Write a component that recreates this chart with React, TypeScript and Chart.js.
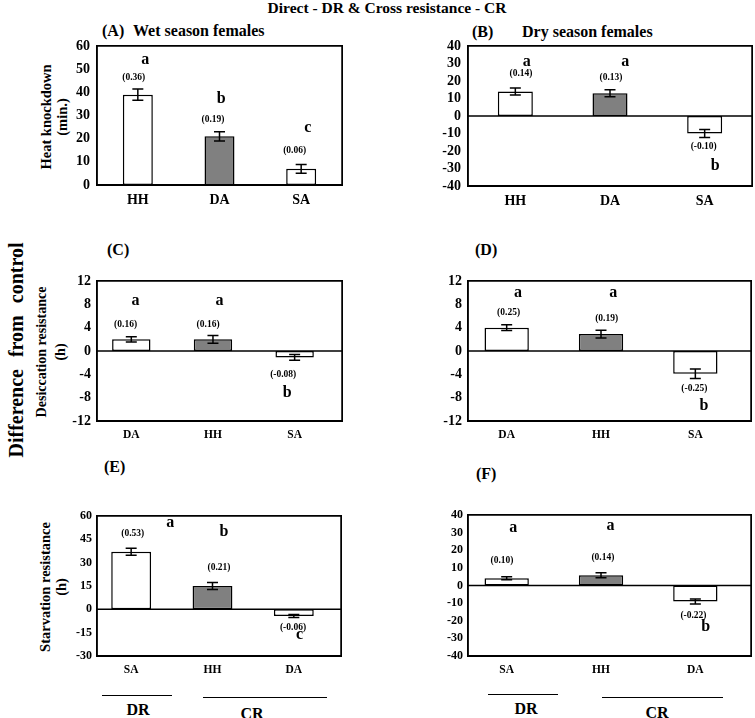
import React, { useEffect, useRef, useState } from "react";
import { Chart, registerables } from "chart.js";

Chart.register(...registerables);

const SERIF = "'Liberation Serif', 'Times New Roman', serif";

// ---------- Data ----------
// (A) Wet season females – heat knockdown (min.)
const catsA = ["HH", "DA", "SA"];
const valsA = [39, 21, 7];
const errsA = [2.4, 2, 1.9];
const lettersA = ["a", "b", "c"];
const letterXA = [0.09, 1.02, 2.08];
const letterYA = [54, 37, 24.6];
const numsA = ["(0.36)", "(0.19)", "(0.06)"];
const numXA = [-0.05, 0.92, 1.92];
const numYA = [46.5, 28.4, 14.7];

// (B) Dry season females – heat knockdown
const catsB = ["HH", "DA", "SA"];
const valsB = [14, 13, -10];
const errsB = [2, 2, 2.3];
const lettersB = ["a", "a", "b"];
const letterXB = [0.12, 1.16, 2.11];
const letterYB = [30.9, 30.9, -28.6];
const numsB = ["(0.14)", "(0.13)", "(-0.10)"];
const numXB = [0.06, 1.01, 1.99];
const numYB = [24, 22.1, -17.5];

// (C) Wet season – desiccation resistance (h)
const catsC = ["DA", "HH", "SA"];
const valsC = [2, 2, -1.1];
const errsC = [0.45, 0.65, 0.5];
const lettersC = ["a", "a", "b"];
const letterXC = [0.05, 1.08, 1.91];
const letterYC = [8.6, 8.6, -7.1];
const numsC = ["(0.16)", "(0.16)", "(-0.08)"];
const numXC = [-0.07, 0.94, 1.86];
const numYC = [4.6, 4.6, -4.0];

// (D) Dry season – desiccation resistance
const catsD = ["DA", "HH", "SA"];
const valsD = [4, 2.9, -3.9];
const errsD = [0.5, 0.65, 0.8];
const lettersD = ["a", "a", "b"];
const letterXD = [0.12, 1.13, 2.09];
const letterYD = [10, 10, -9.4];
const numsD = ["(0.25)", "(0.19)", "(-0.25)"];
const numXD = [0.02, 1.06, 1.99];
const numYD = [6.6, 5.6, -6.5];

// (E) Wet season – starvation resistance (h)
const catsE = ["SA", "HH", "DA"];
const valsE = [37, 15, -4.3];
const errsE = [2.2, 2.2, 0.9];
const lettersE = ["a", "b", "c"];
const letterXE = [0.48, 1.14, 2.07];
const letterYE = [55.5, 50, -16.7];
const numsE = ["(0.53)", "(0.21)", "(-0.06)"];
const numXE = [0.02, 1.08, 1.99];
const numYE = [49, 26.8, -11.4];

// (F) Dry season – starvation resistance
const catsF = ["SA", "HH", "DA"];
const valsF = [4.1, 5.8, -9.1];
const errsF = [0.9, 1.4, 1.4];
const lettersF = ["a", "a", "b"];
const letterXF = [0.07, 1.1, 2.11];
const letterYF = [32.8, 33.8, -23.2];
const numsF = ["(0.10)", "(0.14)", "(-0.22)"];
const numXF = [-0.05, 1.02, 1.98];
const numYF = [14, 15.9, -17.2];

// Axis ranges [min, max, step]
const yRangeA = [0, 60, 10];
const yRangeB = [-40, 40, 10];
const yRangeC = [-12, 12, 4];
const yRangeD = [-12, 12, 4];
const yRangeE = [-30, 60, 15];
const yRangeF = [-40, 40, 10];

// Axis titles
const yTitleA = ["Heat knockdown", "(min.)"];
const yTitleC = ["Desiccation resistance", "(h)"];
const yTitleE = ["Starvation resistance", "(h)"];

type PanelCfg = {
  cats: string[]; vals: number[]; errs: number[];
  letters: string[]; letterX: number[]; letterY: number[];
  nums: string[]; numX: number[]; numY: number[];
  yRange: number[]; xMin: number; xMax: number; barPct: number;
  left: number; top: number; w: number; h: number;
  plot: { l: number; t: number; r: number; b: number };
  yTickSize: number; xTickSize: number; yTickPad: number; xTickPad: number;
};

const panels: PanelCfg[] = [
  {
    cats: catsA, vals: valsA, errs: errsA, letters: lettersA, letterX: letterXA, letterY: letterYA,
    nums: numsA, numX: numXA, numY: numYA, yRange: yRangeA, xMin: -0.5, xMax: 2.5, barPct: 0.367,
    left: 0, top: 25, w: 350, h: 195, plot: { l: 97, t: 46, r: 342, b: 185 },
    yTickSize: 14, xTickSize: 14, yTickPad: 7, xTickPad: 7,
  },
  {
    cats: catsB, vals: valsB, errs: errsB, letters: lettersB, letterX: letterXB, letterY: letterYB,
    nums: numsB, numX: numXB, numY: numYB, yRange: yRangeB, xMin: -0.5, xMax: 2.5, barPct: 0.37,
    left: 380, top: 25, w: 375, h: 195, plot: { l: 468, t: 46, r: 752, b: 186 },
    yTickSize: 14, xTickSize: 14, yTickPad: 7, xTickPad: 7,
  },
  {
    cats: catsC, vals: valsC, errs: errsC, letters: lettersC, letterX: letterXC, letterY: letterYC,
    nums: numsC, numX: numXC, numY: numYC, yRange: yRangeC, xMin: -0.42, xMax: 2.58, barPct: 0.47,
    left: 0, top: 262, w: 350, h: 190, plot: { l: 97, t: 281, r: 342, b: 421 },
    yTickSize: 14, xTickSize: 11.5, yTickPad: 6, xTickPad: 7,
  },
  {
    cats: catsD, vals: valsD, errs: errsD, letters: lettersD, letterX: letterXD, letterY: letterYD,
    nums: numsD, numX: numXD, numY: numYD, yRange: yRangeD, xMin: -0.41, xMax: 2.59, barPct: 0.47,
    left: 380, top: 262, w: 375, h: 190, plot: { l: 468, t: 281, r: 751, b: 421 },
    yTickSize: 14, xTickSize: 11.5, yTickPad: 6, xTickPad: 7,
  },
  {
    cats: catsE, vals: valsE, errs: errsE, letters: lettersE, letterX: letterXE, letterY: letterYE,
    nums: numsE, numX: numXE, numY: numYE, yRange: yRangeE, xMin: -0.42, xMax: 2.58, barPct: 0.49,
    left: 0, top: 495, w: 350, h: 185, plot: { l: 97, t: 516, r: 341, b: 656 },
    yTickSize: 12, xTickSize: 11.5, yTickPad: 5, xTickPad: 7,
  },
  {
    cats: catsF, vals: valsF, errs: errsF, letters: lettersF, letterX: letterXF, letterY: letterYF,
    nums: numsF, numX: numXF, numY: numYF, yRange: yRangeF, xMin: -0.41, xMax: 2.59, barPct: 0.47,
    left: 380, top: 495, w: 375, h: 185, plot: { l: 468, t: 515, r: 751, b: 656 },
    yTickSize: 12, xTickSize: 11.5, yTickPad: 5, xTickPad: 7,
  },
];

const BORDER = { display: true, color: "#000000", width: 1.5 };

type Area = { left: number; top: number; width: number; height: number };

function BarPanel({ p }: { p: PanelCfg }) {
  const ref = useRef<HTMLCanvasElement>(null);
  const [area, setArea] = useState<Area | null>(null);
  useEffect(() => {
    const canvas = ref.current;
    if (!canvas) return;
    const padTop = p.plot.t - p.top;
    const padRight = p.left + p.w - p.plot.r;
    const yAxisW = p.plot.l - p.left;
    const xAxisH = p.top + p.h - p.plot.b;
    const cap = 11;

    const annot = {
      id: "annot",
      beforeDatasetsDraw(chart: any) {
        const { ctx, chartArea: ca, scales } = chart;
        const y = scales.y;
        if (p.yRange[0] < 0) {
          const y0 = y.getPixelForValue(0);
          ctx.save();
          ctx.strokeStyle = "#000";
          ctx.lineWidth = 1.5;
          ctx.beginPath();
          ctx.moveTo(ca.left, y0);
          ctx.lineTo(ca.right + 1, y0);
          ctx.stroke();
          ctx.restore();
        }
      },
      afterDatasetsDraw(chart: any) {
        const { ctx, scales } = chart;
        const x = scales.x;
        const y = scales.y;
        ctx.save();
        ctx.strokeStyle = "#000";
        ctx.fillStyle = "#000";
        ctx.lineWidth = 1.5;
        p.vals.forEach((v, i) => {
          const cx = x.getPixelForValue(i);
          const y1 = y.getPixelForValue(v + p.errs[i]);
          const y2 = y.getPixelForValue(v - p.errs[i]);
          ctx.beginPath();
          ctx.moveTo(cx, y1);
          ctx.lineTo(cx, y2);
          ctx.moveTo(cx - cap / 2, y1);
          ctx.lineTo(cx + cap / 2, y1);
          ctx.moveTo(cx - cap / 2, y2);
          ctx.lineTo(cx + cap / 2, y2);
          ctx.stroke();
        });
        ctx.textAlign = "center";
        ctx.textBaseline = "middle";
        ctx.font = `bold 16px ${SERIF}`;
        p.letters.forEach((t2, i) => {
          ctx.fillText(t2, x.getPixelForValue(p.letterX[i]), y.getPixelForValue(p.letterY[i]));
        });
        ctx.font = `bold 9.5px ${SERIF}`;
        p.nums.forEach((t2, i) => {
          ctx.fillText(t2, x.getPixelForValue(p.numX[i]), y.getPixelForValue(p.numY[i]));
        });
        ctx.restore();
      },
    };

    const frame = [
      { x: p.xMin, y: p.yRange[1] },
      { x: p.xMax, y: p.yRange[1] },
      { x: p.xMax, y: p.yRange[0] },
      { x: p.xMin, y: p.yRange[0] },
      { x: p.xMin, y: p.yRange[1] },
    ];

    const chart = new Chart(canvas, {
      type: "bar",
      data: {
        datasets: [
          {
            type: "bar",
            data: p.vals.map((v, i) => ({ x: i, y: v })) as any,
            backgroundColor: p.vals.map((_, i) => (i === 1 ? "#808080" : "#ffffff")),
            borderColor: "#000000",
            borderWidth: 1.5,
            borderSkipped: false,
            barPercentage: p.barPct,
            categoryPercentage: 1,
            order: 1,
          },
          {
            type: "line",
            data: frame as any,
            borderColor: "#000000",
            borderWidth: 1.5,
            pointRadius: 0,
            fill: false,
            tension: 0,
            clip: false,
            order: 0,
          } as any,
        ],
      },
      options: {
        responsive: false,
        animation: false,
        devicePixelRatio: 1,
        events: [],
        layout: { padding: { left: 0, top: padTop, right: padRight, bottom: 0 } },
        plugins: { legend: { display: false }, tooltip: { enabled: false }, title: { display: false } },
        scales: {
          x: {
            type: "linear",
            position: "bottom",
            offset: false,
            min: p.xMin,
            max: p.xMax,
            grid: { display: false, drawTicks: false, offset: false },
            border: BORDER,
            afterBuildTicks: (s: any) => {
              s.ticks = p.cats.map((_, i) => ({ value: i }));
            },
            afterFit: (s: any) => {
              s.height = xAxisH;
            },
            ticks: {
              callback: (v: any) => p.cats[v as number] ?? "",
              color: "#000",
              font: { family: SERIF, size: p.xTickSize, weight: "bold" },
              padding: p.xTickPad,
              autoSkip: false,
              maxRotation: 0,
            },
          },
          y: {
            type: "linear",
            position: "left",
            min: p.yRange[0],
            max: p.yRange[1],
            grid: { display: false, drawTicks: false },
            border: BORDER,
            afterFit: (s: any) => {
              s.width = yAxisW;
            },
            ticks: {
              stepSize: p.yRange[2],
              autoSkip: false,
              color: "#000",
              font: { family: SERIF, size: p.yTickSize, weight: "bold" },
              padding: p.yTickPad,
            },
          },
        },
      } as any,
      plugins: [annot],
    });
    const ca = chart.chartArea;
    setArea({ left: ca.left, top: ca.top, width: ca.right - ca.left, height: ca.bottom - ca.top });
    return () => chart.destroy();
  }, [p]);
  return (
    <>
      <canvas
        ref={ref}
        width={p.w}
        height={p.h}
        style={{ position: "absolute", left: p.left, top: p.top, width: p.w, height: p.h, zIndex: 2 }}
      />
      {area && (
        <div
          style={{
            position: "absolute",
            left: p.left + area.left - 0.75,
            top: p.top + area.top - 0.75,
            width: area.width + 1.5,
            height: area.height + 1.5,
            border: "1.5px solid #000",
            boxSizing: "border-box",
            zIndex: 3,
            pointerEvents: "none",
          }}
        />
      )}
    </>
  );
}

function Txt({
  x, y, text, size, anchor = "center",
}: { x: number; y: number; text: string; size: number; anchor?: "center" | "left" }) {
  return (
    <div
      style={{
        position: "absolute",
        left: x,
        top: y,
        transform: anchor === "center" ? "translate(-50%, -50%)" : "translate(0, -50%)",
        fontFamily: SERIF,
        fontWeight: "bold",
        fontSize: size,
        lineHeight: 1,
        whiteSpace: "pre",
        color: "#000",
        pointerEvents: "none",
      }}
    >
      {text}
    </div>
  );
}

function VTitle({ x, y, lines, size, lh }: { x: number; y: number; lines: string[]; size: number; lh: number }) {
  return (
    <div
      style={{
        position: "absolute",
        left: x,
        top: y,
        transform: "translate(-50%, -50%) rotate(-90deg)",
        fontFamily: SERIF,
        fontWeight: "bold",
        fontSize: size,
        lineHeight: `${lh}px`,
        whiteSpace: "pre",
        textAlign: "center",
        color: "#000",
      }}
    >
      {lines.join("\n")}
    </div>
  );
}

function HLine({ x1, x2, y }: { x1: number; x2: number; y: number }) {
  return (
    <div style={{ position: "absolute", left: x1, top: y, width: x2 - x1, height: 1.2, background: "#000" }} />
  );
}

export default function App() {
  return (
    <div
      style={{
        position: "absolute",
        left: 0,
        top: 0,
        width: 755,
        height: 718,
        background: "#fff",
        overflow: "hidden",
      }}
    >
      <Txt x={387} y={8} text="Direct - DR & Cross resistance - CR" size={15.5} />
      <Txt x={102} y={31} text="(A)" size={16} anchor="left" />
      <Txt x={133} y={31} text="Wet season females" size={16} anchor="left" />
      <Txt x={472} y={32} text="(B)" size={16} anchor="left" />
      <Txt x={522} y={32} text="Dry season females" size={16} anchor="left" />
      <Txt x={107} y={250} text="(C)" size={16} anchor="left" />
      <Txt x={475} y={250} text="(D)" size={16} anchor="left" />
      <Txt x={104} y={467} text="(E)" size={16} anchor="left" />
      <Txt x={476} y={474} text="(F)" size={16} anchor="left" />
      <VTitle x={54} y={117} lines={yTitleA} size={14.5} lh={16} />
      <VTitle x={51} y={352} lines={yTitleC} size={14} lh={18.5} />
      <VTitle x={53} y={587} lines={yTitleE} size={14.5} lh={16} />
      <div
        style={{
          position: "absolute",
          left: 16,
          top: 350,
          transform: "translate(-50%, -50%) rotate(-90deg)",
          fontFamily: SERIF,
          fontWeight: "bold",
          fontSize: 20,
          lineHeight: 1,
          whiteSpace: "pre",
          wordSpacing: 7,
          color: "#000",
        }}
      >
        Difference from control
      </div>
      <HLine x1={102} x2={172} y={695} />
      <HLine x1={203} x2={327} y={697} />
      <Txt x={138} y={710} text="DR" size={16} />
      <Txt x={252} y={714} text="CR" size={16} />
      <HLine x1={488} x2={558} y={694} />
      <HLine x1={602} x2={723} y={697} />
      <Txt x={526} y={709} text="DR" size={16} />
      <Txt x={657} y={713} text="CR" size={16} />
      {panels.map((p, i) => (
        <BarPanel key={i} p={p} />
      ))}
    </div>
  );
}
